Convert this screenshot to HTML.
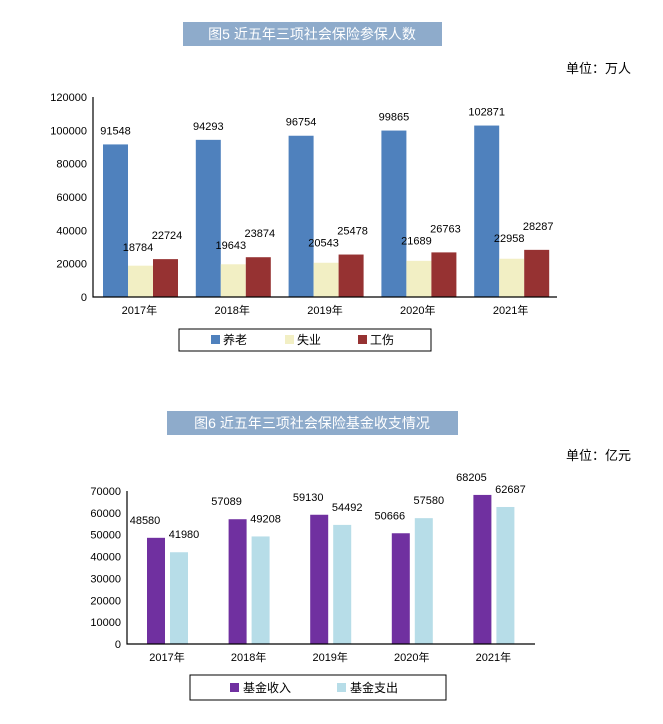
<!DOCTYPE html>
<html><head><meta charset="utf-8"><style>
body{margin:0;background:#fff;width:663px;height:719px;overflow:hidden;font-family:"Liberation Sans","Noto Sans CJK SC",sans-serif;}
svg text{font-family:"Liberation Sans","Noto Sans CJK SC",sans-serif;}
</style></head><body>
<svg id="s" width="663" height="719">
<rect x="183" y="22" width="259" height="24" fill="#8eabcb"/>
<text x="312" y="39" font-size="14" fill="#fff" text-anchor="middle">图5  近五年三项社会保险参保人数</text>
<text x="631" y="73" font-size="13" fill="#000" text-anchor="end">单位：万人</text>
<rect x="167" y="411" width="291" height="24" fill="#8eabcb"/>
<text x="312" y="428" font-size="14" fill="#fff" text-anchor="middle">图6  近五年三项社会保险基金收支情况</text>
<text x="631" y="460" font-size="13" fill="#000" text-anchor="end">单位：亿元</text>
<g id="c1"></g><g id="c2"></g>
<rect x="179" y="329" width="252" height="22" fill="none" stroke="#000"/>
<rect x="211" y="335" width="9" height="9" fill="#4f81bd"/>
<text x="223" y="344" font-size="12">养老</text>
<rect x="285" y="335" width="9" height="9" fill="#f2efc4"/>
<text x="297" y="344" font-size="12">失业</text>
<rect x="358" y="335" width="9" height="9" fill="#963232"/>
<text x="370" y="344" font-size="12">工伤</text>
<rect x="190" y="675" width="256" height="25" fill="none" stroke="#000"/>
<rect x="230" y="683" width="9" height="9" fill="#7030a0"/>
<text x="243" y="692" font-size="12">基金收入</text>
<rect x="337" y="683" width="9" height="9" fill="#b7dde8"/>
<text x="350" y="692" font-size="12">基金支出</text>
</svg>
<script>
const years=["2017年","2018年","2019年","2020年","2021年"];
const pension=[91548,94293,96754,99865,102871];
const unemployment=[18784,19643,20543,21689,22958];
const injury=[22724,23874,25478,26763,28287];
const ticks1=[0,20000,40000,60000,80000,100000,120000];
const income=[48580,57089,59130,50666,68205];
const expense=[41980,49208,54492,57580,62687];
const ticks2=[0,10000,20000,30000,40000,50000,60000,70000];
const NS="http://www.w3.org/2000/svg";
function mk(p,t,a,txt){const e=document.createElementNS(NS,t);for(const k in a)e.setAttribute(k,a[k]);if(txt!=null)e.textContent=txt;p.appendChild(e);return e;}
// chart 1
(function(){
const g=document.getElementById('c1');
const x0=93,x1=557,y0=297,yT=97,max=120000;
const y=v=>y0-(v/max)*(y0-yT);
const gw=(x1-x0)/years.length;
ticks1.forEach(t=>{const e=mk(g,'text',{x:x0-6,y:y(t)+4,'font-size':11,'text-anchor':'end'},t);

});
const series=[[pension,'#4f81bd','pension'],[unemployment,'#f2efc4','unemployment'],[injury,'#963232','injury']];
years.forEach((yr,i)=>{
 const gx=x0+i*gw+10;
 series.forEach((s,j)=>{
  const v=s[0][i],bx=gx+j*25;
  const r=mk(g,'rect',{x:bx,y:y(v),width:25,height:y0-y(v),fill:s[1]});
  
  
  let lx=bx+12.5,ly=y(v)-10;
  if(j===1){ly=Math.min(y(v),y(s[0]===unemployment?injury[i]:v))-8;lx=bx+10;}
  if(j===2){ly=y(v)-20;lx=bx+14;}
  const t=mk(g,'text',{x:lx,y:ly,'font-size':11,'text-anchor':'middle'},v);
  
  
 });
 const t=mk(g,'text',{x:x0+i*gw+gw/2,y:y0+17,'font-size':11,'text-anchor':'middle'},yr);
 
 
});
const a=mk(g,'path',{d:`M${x0} ${yT}V${y0}H${x1}`,stroke:'#000','stroke-width':1.2,fill:'none'});


})();
// chart 2
(function(){
const g=document.getElementById('c2');
const x0=127,x1=535,y0=644,yT=491,max=70000;
const y=v=>y0-(v/max)*(y0-yT);
const gw=(x1-x0)/years.length;
ticks2.forEach(t=>{const e=mk(g,'text',{x:x0-6,y:y(t)+4,'font-size':11,'text-anchor':'end'},t);

});
const series=[[income,'#7030a0','income'],[expense,'#b7dde8','expense']];
years.forEach((yr,i)=>{
 const gx=x0+i*gw+20;
 series.forEach((s,j)=>{
  const v=s[0][i],bx=gx+j*23;
  const r=mk(g,'rect',{x:bx,y:y(v),width:18,height:y0-y(v),fill:s[1]});
  
  
  const t=mk(g,'text',{x:bx+(j?14:-2),y:y(v)-14,'font-size':11,'text-anchor':'middle'},v);
  
  
 });
 const t=mk(g,'text',{x:x0+i*gw+40,y:y0+17,'font-size':11,'text-anchor':'middle'},yr);
 
 
});
const a=mk(g,'path',{d:`M${x0} ${yT}V${y0}H${x1}`,stroke:'#000','stroke-width':1.2,fill:'none'});


})();
</script>
</body></html>
